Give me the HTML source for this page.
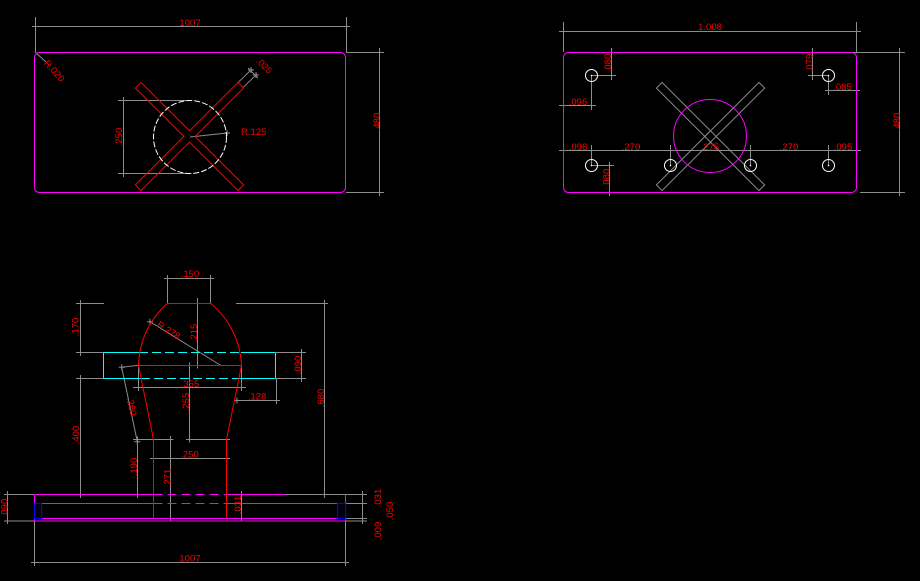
<!DOCTYPE html>
<html><head><meta charset="utf-8"><style>
html,body{margin:0;padding:0;background:#000;}
svg{display:block}
text{font-family:"Liberation Sans",sans-serif;font-size:9.5px;fill:#ff0000;text-anchor:middle}
</style></head><body>
<svg width="920" height="581" viewBox="0 0 920 581" xmlns="http://www.w3.org/2000/svg">
<defs><path id="k" d="M-3 0H3M0-3V3" stroke="#8c8c8c" stroke-width="1" fill="none"/></defs>
<rect width="920" height="581" fill="#000"/>

<!-- ===== TOP-LEFT VIEW ===== -->
<g fill="none" stroke="#8c8c8c" stroke-width="1">
<path d="M35.5 17V52M346.5 17V52M32 26.5H350M346 52.5H384M346 192.5H384M379.5 48V196M118 100.5H187M118 173.5H187M123.5 97V177M190 137L227 133M35 52L46 62M238.3 82.3L252 69M243.3 87.3L257 74M248 68L258 78"/>
</g>
<use href="#k" x="35.5" y="26.5"/><use href="#k" x="346.5" y="26.5"/><use href="#k" x="379.5" y="52.5"/><use href="#k" x="379.5" y="192.5"/><use href="#k" x="123.5" y="100.5"/><use href="#k" x="123.5" y="173.5"/><use href="#k" x="227" y="133"/><use href="#k" x="251" y="70"/><use href="#k" x="256" y="75"/>
<rect x="34.5" y="52.5" width="311" height="140" rx="5" fill="none" stroke="#ff00ff" stroke-width="1"/>
<polygon transform="translate(189.5 136.5) rotate(45)" points="72.5,-4 72.5,4 4,4 4,72.5 -4,72.5 -4,4 -72.5,4 -72.5,-4 -4,-4 -4,-72.5 4,-72.5 4,-4" fill="none" stroke="#ff0000" stroke-width="1"/>
<circle cx="190" cy="137" r="36.5" fill="none" stroke="#ffffff" stroke-width="1" stroke-dasharray="6 2"/>
<text x="190" y="26">1007</text>
<text transform="translate(380 122) rotate(-90)">.480</text>
<text transform="translate(122 137) rotate(-90)">.250</text>
<text x="241" y="135" style="text-anchor:start">R.125</text>
<text transform="translate(52 73) rotate(48)">R.020</text>
<text transform="translate(262 68) rotate(45)">.025</text>

<!-- ===== TOP-RIGHT VIEW ===== -->
<g fill="none" stroke="#8c8c8c" stroke-width="1">
<path d="M563.5 22V52M856.5 22V52M559 31.5H861M857 52.5H905M860 192.5H905M899.5 48V196M559 150.5H861M591.5 145V166M670.5 145V166M750.5 145V166M828.5 145V166M611.5 48V80M592 75.5H616M559 105.5H596M591.5 76V110M812.5 48V80M808 75.5H829M812 52.5H857M825 90.5H860M828.5 76V95M609.5 162V196M592 165.5H614"/>
<g transform="translate(710.5 136.5)">
<rect x="-72.5" y="-4" width="145" height="8" transform="rotate(45)"/>
<rect x="-72.5" y="-4" width="145" height="8" transform="rotate(-45)"/>
</g>
</g>
<use href="#k" x="563.5" y="31.5"/><use href="#k" x="856.5" y="31.5"/><use href="#k" x="899.5" y="52.5"/><use href="#k" x="899.5" y="192.5"/><use href="#k" x="611.5" y="52.5"/><use href="#k" x="611.5" y="75.5"/><use href="#k" x="591.5" y="105.5"/><use href="#k" x="812.5" y="52.5"/><use href="#k" x="812.5" y="75.5"/><use href="#k" x="828.5" y="90.5"/><use href="#k" x="856.5" y="90.5"/><use href="#k" x="609.5" y="165.5"/><use href="#k" x="609.5" y="192.5"/>
<use href="#k" x="563.5" y="150.5"/><use href="#k" x="591.5" y="150.5"/><use href="#k" x="670.5" y="150.5"/><use href="#k" x="750.5" y="150.5"/><use href="#k" x="828.5" y="150.5"/><use href="#k" x="856.5" y="150.5"/>
<rect x="563.5" y="52.5" width="293" height="140" rx="5" fill="none" stroke="#ff00ff" stroke-width="1"/>
<circle cx="710" cy="136" r="36.5" fill="none" stroke="#ff00ff" stroke-width="1"/>
<g fill="none" stroke="#ffffff" stroke-width="1">
<circle cx="591.5" cy="75.5" r="6"/><circle cx="828.5" cy="75.5" r="6"/>
<circle cx="591.5" cy="165.5" r="6"/><circle cx="670.5" cy="165.5" r="6"/><circle cx="750.5" cy="165.5" r="6"/><circle cx="828.5" cy="165.5" r="6"/>
</g>
<g fill="#ffffff">
<circle cx="591.5" cy="75.5" r="0.8"/><circle cx="828.5" cy="75.5" r="0.8"/>
<circle cx="591.5" cy="165.5" r="0.8"/><circle cx="670.5" cy="165.5" r="0.8"/><circle cx="750.5" cy="165.5" r="0.8"/><circle cx="828.5" cy="165.5" r="0.8"/>
</g>
<text x="710" y="30">1.008</text>
<text transform="translate(900 122) rotate(-90)">.480</text>
<text transform="translate(611 63) rotate(-90)">.080</text>
<text x="578" y="105">.096</text>
<text transform="translate(812.5 63) rotate(-90)">.079</text>
<text x="842.5" y="90">.085</text>
<text transform="translate(609.5 178) rotate(-90)">.080</text>
<text x="578" y="150">.096</text>
<text x="631" y="150">.270</text>
<text x="710" y="150">.275</text>
<text x="789" y="150">.270</text>
<text x="843" y="150">.095</text>

<!-- ===== BOTTOM VIEW ===== -->
<g fill="none" stroke="#8c8c8c" stroke-width="1">
<path d="M167.5 275V303M210.5 275V303M164 278.5H214M76 303.5H104M236 303.5H328M76 352.5H104M76 378.5H104M80.5 300V356M80.5 375V498M197.5 298V367M150 321.7L221.7 366M276 352.5H306M276 378.5H306M301.5 349V382M324.5 300V498M133 387.5H246M138.5 366V391M241.5 366V391M237 400.5H280M276.5 379V404M189.5 366V442M186 439.5H230M186 365.5H200M121.7 367.3L137.3 441.7M121.7 367.3L138.3 365.3M133 439.5H173M137.5 437V498M170.5 436V521M150 458.5H230M241.5 491V521M4 494.5H34M4 521H34M7.5 491V524M345 494.5H367M345 503.5H367M345 518.5H367M345 521H367M362.5 491V524M34.5 521V566M345.5 521V566M31 562.5H349M80 494.5H103"/>
</g>
<use href="#k" x="80.5" y="303.5"/><use href="#k" x="80.5" y="352.5"/><use href="#k" x="80.5" y="378.5"/><use href="#k" x="80.5" y="494.5"/><use href="#k" x="167.5" y="278.5"/><use href="#k" x="210.5" y="278.5"/><use href="#k" x="324.5" y="303.5"/><use href="#k" x="324.5" y="494.5"/><use href="#k" x="197.5" y="303.5"/><use href="#k" x="197.5" y="365.5"/><use href="#k" x="150" y="321.7"/><use href="#k" x="301.5" y="352.5"/><use href="#k" x="301.5" y="378.5"/><use href="#k" x="138.5" y="387.5"/><use href="#k" x="241.5" y="387.5"/><use href="#k" x="237" y="400.5"/><use href="#k" x="276.5" y="400.5"/><use href="#k" x="189.5" y="365.5"/><use href="#k" x="189.5" y="439.5"/><use href="#k" x="121.7" y="367.3"/><use href="#k" x="137.3" y="441.7"/><use href="#k" x="137.5" y="439.5"/><use href="#k" x="137.5" y="494.5"/><use href="#k" x="170.5" y="439.5"/><use href="#k" x="170.5" y="518.5"/><use href="#k" x="153.5" y="458.5"/><use href="#k" x="226.5" y="458.5"/><use href="#k" x="241.5" y="494.5"/><use href="#k" x="241.5" y="518.5"/><use href="#k" x="7.5" y="494.5"/><use href="#k" x="7.5" y="521"/><use href="#k" x="362.5" y="494.5"/><use href="#k" x="362.5" y="503.5"/><use href="#k" x="362.5" y="518.5"/><use href="#k" x="362.5" y="521"/><use href="#k" x="34.5" y="562.5"/><use href="#k" x="345.5" y="562.5"/>

<!-- cyan plate -->
<g fill="none" stroke="#00ffff" stroke-width="1">
<path d="M103.5 352.5V378.5M275.5 352.5V378.5M103.5 352.5H139M241 352.5H275.5M103.5 378.5H141M239 378.5H275.5"/>
<path d="M139 352.5H241M141 378.5H239" stroke-dasharray="9 4"/>
</g>

<!-- magenta base -->
<g fill="none" stroke="#ff00ff" stroke-width="1">
<path d="M34.5 494.5H153.5M226.5 494.5H285M34.5 503.5H153.5M226.5 503.5H345.5M34.5 518.5H345.5M34.5 521H345.5M34.5 494.5V521M345.5 494.5V521"/>
<path d="M153.5 494.5H226.5M153.5 503.5H226.5" stroke-dasharray="9 5"/>
</g>
<path d="M285 494.5H345.5" stroke="#8c8c8c" stroke-width="1" fill="none"/>
<g fill="none" stroke="#0000ff" stroke-width="1.2">
<rect x="34.5" y="503.5" width="7" height="15"/>
<rect x="337.5" y="503.5" width="8" height="15"/>
</g>

<!-- red profile -->
<g fill="none" stroke="#ff0000" stroke-width="1">
<path d="M167.3 303.5H210.7"/>
<path d="M167.3 303.5A85 85 0 0 0 138.5 365.5L153.5 439.5V518.5"/>
<path d="M210.7 303.5A85 85 0 0 1 241.5 365.5L226.5 439.5V518.5"/>
<path d="M138.5 365.5H241.5"/>
</g>

<text x="190" y="277">.150</text>
<text transform="translate(78.5 327) rotate(-90)">.170</text>
<text transform="translate(197 333) rotate(-90)">.215</text>
<text transform="translate(167 333) rotate(32)">R.278</text>
<text transform="translate(301 365) rotate(-90)">.090</text>
<text transform="translate(324 398) rotate(-90)">.680</text>
<text x="190" y="387">.355</text>
<text x="257" y="399.5">.128</text>
<text transform="translate(189 402) rotate(-90)">.255</text>
<text transform="translate(128.5 407) rotate(78)">.260</text>
<text transform="translate(79 435) rotate(-90)">.400</text>
<text transform="translate(137 467) rotate(-90)">.190</text>
<text transform="translate(170.5 478) rotate(-90)">.271</text>
<text x="189.5" y="457.5">.250</text>
<text transform="translate(241 505) rotate(-90)">.031</text>
<text transform="translate(7.5 508) rotate(-90)">.090</text>
<text transform="translate(381 498) rotate(-90)">.031</text>
<text transform="translate(393 511) rotate(-90)">.050</text>
<text transform="translate(381 531) rotate(-90)">.009</text>
<text x="190" y="561.5">1007</text>
</svg>
</body></html>
